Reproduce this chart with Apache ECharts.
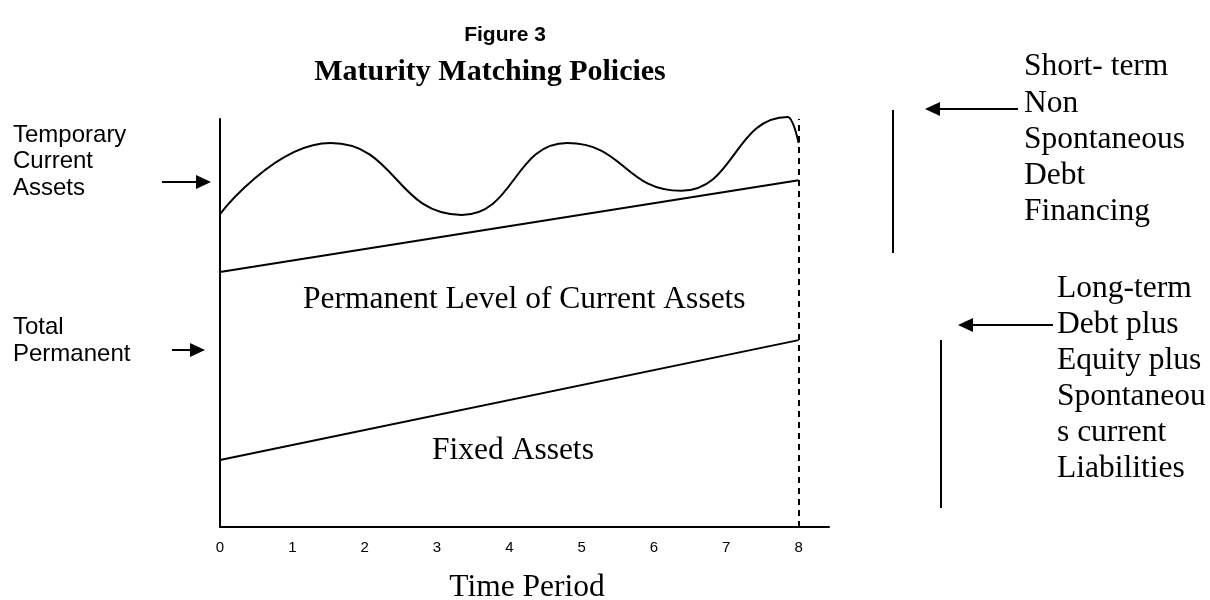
<!DOCTYPE html>
<html>
<head>
<meta charset="utf-8">
<script src="https://cdn.jsdelivr.net/npm/echarts@6/dist/echarts.min.js"></script>
<style>html,body{margin:0;padding:0;background:#fff;}#c{width:1210px;height:600px;}</style>
</head>
<body>
<div id="c"></div>
<script>
// Time period ticks
const xTicks = [0, 1, 2, 3, 4, 5, 6, 7, 8];
// Total current assets (fluctuating curve): read turning points [time, level]
const totalAssets = [[0, 76.7], [1.53, 94.1], [3.34, 76.5], [4.8, 94.1], [6.38, 82.4], [7.85, 100.5], [8.0, 94.1]];
// Permanent level of current assets (upper straight line)
const permanentCurrent = [[0, 62.5], [8, 85.0]];
// Fixed assets (lower straight line)
const fixedAssets = [[0, 16.4], [8, 45.8]];

const serif = 'Liberation Serif';
const sans = 'Liberation Sans';

function arrow(x1, x2, y) {
  const dir = x2 > x1 ? 1 : -1;
  return [
    { type: 'line', shape: { x1: x1, y1: y, x2: x2 - dir * 12, y2: y }, style: { stroke: '#000', lineWidth: 2 } },
    { type: 'polygon', shape: { points: [[x2, y], [x2 - dir * 15, y - 7], [x2 - dir * 15, y + 7]] }, style: { fill: '#000' } }
  ];
}
function txt(t, x, y, font, size, align, bold) {
  return { type: 'text', x: x, y: y,
    style: { text: t, x: 0, y: 0, font: (bold ? 'bold ' : '') + size + 'px "' + font + '"', fill: '#000', textAlign: align || 'left', textVerticalAlign: 'middle' } };
}
function block(x, y0, lh, lines, font, size) { return lines.map((t, i) => txt(t, x, y0 + i * lh, font, size)); }

const graphics = [].concat(
  txt('Figure 3', 505, 35, sans, 21, 'center', true),
  txt('Maturity Matching Policies', 490, 72, serif, 30, 'center', true),
  block(13, 135, 26.5, ['Temporary', 'Current', 'Assets'], sans, 24),
  block(13, 327, 27, ['Total', 'Permanent'], sans, 24),
  arrow(162, 211, 182),
  arrow(172, 205, 350),
  [{ type: 'line', shape: { x1: 893, y1: 110, x2: 893, y2: 253 }, style: { stroke: '#000', lineWidth: 2 } }],
  arrow(1018, 925, 109),
  block(1024, 67, 36.3, ['Short- term', 'Non', 'Spontaneous', 'Debt', 'Financing'], serif, 31.5),
  [{ type: 'line', shape: { x1: 941, y1: 340, x2: 941, y2: 508 }, style: { stroke: '#000', lineWidth: 2 } }],
  arrow(1053, 958, 325),
  block(1057, 289, 36, ['Long-term', 'Debt plus', 'Equity plus', 'Spontaneou', 's current', 'Liabilities'], serif, 31.5),
  txt('Permanent Level of Current Assets', 303, 300, serif, 31.5),
  txt('Fixed Assets', 432, 451, serif, 31.5),
  txt('Time Period', 527, 588, serif, 31.5, 'center')
);

const chart = echarts.init(document.getElementById('c'));
chart.setOption({
  animation: false,
  backgroundColor: '#fff',
  grid: { left: 220, right: 381, top: 119, bottom: 73 },
  xAxis: {
    type: 'value', min: 0, max: 8.42, interval: 1,
    axisLine: { lineStyle: { color: '#000', width: 2 } },
    axisTick: { show: false }, splitLine: { show: false },
    axisLabel: { color: '#000', fontFamily: sans, fontSize: 15, margin: 13,
      formatter: v => (xTicks.indexOf(v) >= 0 ? String(v) : '') }
  },
  yAxis: {
    type: 'value', min: 0, max: 100,
    axisLine: { show: true, lineStyle: { color: '#000', width: 2 } },
    axisTick: { show: false }, axisLabel: { show: false }, splitLine: { show: false }
  },
  series: [
    { type: 'line', data: totalAssets, smooth: 0.5, smoothMonotone: 'x', symbol: 'none', clip: false,
      lineStyle: { color: '#000', width: 2 },
      markLine: { silent: true, symbol: 'none', label: { show: false },
        lineStyle: { color: '#000', type: [6, 5], width: 2 }, data: [{ xAxis: 8 }] } },
    { type: 'line', data: permanentCurrent, symbol: 'none', lineStyle: { color: '#000', width: 2 } },
    { type: 'line', data: fixedAssets, symbol: 'none', lineStyle: { color: '#000', width: 2 } }
  ],
  graphic: graphics
});
</script>
</body>
</html>
